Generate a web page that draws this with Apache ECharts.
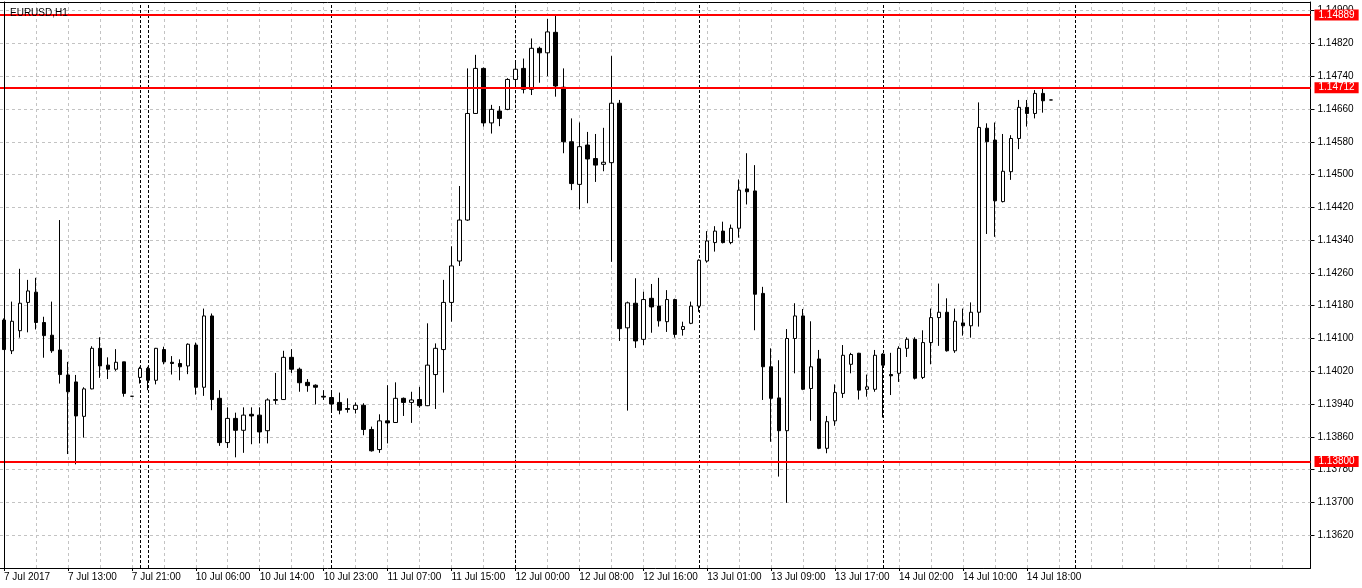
<!DOCTYPE html>
<html><head><meta charset="utf-8">
<script src="https://cdn.jsdelivr.net/npm/echarts@6/dist/echarts.min.js"></script>
<style>html,body{margin:0;padding:0;background:#fff}#c{width:1362px;height:588px}</style>
</head><body><div id="c"></div>
<script>
const chartTitle = 'EURUSD,H1';
const open = [1.14145,1.14070,1.14119,1.14188,1.14213,1.14139,1.14108,1.14072,1.14011,1.13994,
1.13910,1.13977,1.14076,1.14035,1.14025,1.14043,1.13959,1.14005,1.14027,1.13998,
1.14073,1.14042,1.14039,1.14033,1.14084,1.13981,1.14155,1.13954,1.13846,1.13905,
1.13876,1.13915,1.13913,1.13875,1.13949,1.13951,1.14054,1.14025,1.13993,1.13986,
1.13959,1.13956,1.13944,1.13929,1.13927,1.13937,1.13878,1.13829,1.13899,1.13895,
1.13954,1.13944,1.13951,1.13936,1.14012,1.14073,1.14188,1.14289,1.14389,1.14649,
1.14759,1.14626,1.14655,1.14659,1.14732,1.14759,1.14708,1.14808,1.14797,1.14847,
1.14713,1.14580,1.14476,1.14572,1.14539,1.14525,1.14529,1.14674,1.14126,1.14186,
1.14098,1.14198,1.14179,1.14141,1.14195,1.14122,1.14137,1.14179,1.14289,1.14334,
1.14362,1.14334,1.14369,1.14465,1.14460,1.14210,1.14031,1.13955,1.13875,1.14100,
1.14155,1.13978,1.14050,1.13832,1.13899,1.13966,1.14037,1.14064,1.13976,1.13976,
1.14062,1.14012,1.14015,1.14076,1.14098,1.14005,1.14090,1.14151,1.14164,1.14070,
1.14138,1.14131,1.14164,1.14613,1.14584,1.14434,1.14507,1.14588,1.14664,1.14649,
1.14698,1.14682];
const close = [1.14073,1.14142,1.14186,1.14216,1.14139,1.14107,1.14070,1.14012,1.13970,1.13911,
1.13977,1.14076,1.14033,1.14025,1.14042,1.13966,1.13959,1.14027,1.13998,1.14076,
1.14043,1.14039,1.14031,1.14086,1.13981,1.14155,1.13951,1.13846,1.13905,1.13876,
1.13913,1.13911,1.13872,1.13950,1.13951,1.14054,1.14025,1.13992,1.13985,1.13981,
1.13957,1.13940,1.13925,1.13927,1.13937,1.13878,1.13826,1.13899,1.13894,1.13954,
1.13944,1.13950,1.13936,1.14035,1.14076,1.14188,1.14277,1.14389,1.14649,1.14759,
1.14626,1.14659,1.14637,1.14732,1.14757,1.14708,1.14808,1.14797,1.14848,1.14716,
1.14580,1.14478,1.14568,1.14538,1.14523,1.14530,1.14674,1.14124,1.14187,1.14094,
1.14195,1.14177,1.14143,1.14195,1.14110,1.14129,1.14179,1.14291,1.14338,1.14362,
1.14334,1.14369,1.14462,1.14458,1.14208,1.14031,1.13954,1.13875,1.14100,1.14155,
1.13976,1.14031,1.13832,1.13897,1.13968,1.14059,1.14061,1.13974,1.13982,1.14059,
1.14035,1.14009,1.14076,1.14098,1.14003,1.14090,1.14151,1.14164,1.14070,1.14142,
1.14131,1.14164,1.14615,1.14580,1.14436,1.14508,1.14588,1.14664,1.14649,1.14698,
1.14680,1.14682];
const low = [1.14072,1.14062,1.14102,1.14115,1.14122,1.14053,1.14065,1.13990,1.13818,1.13793,
1.13858,1.13976,1.14004,1.14001,1.14021,1.13958,1.13959,1.13990,1.13974,1.13988,
1.14037,1.14012,1.13998,1.14013,1.13963,1.13960,1.13925,1.13838,1.13833,1.13810,
1.13821,1.13842,1.13844,1.13844,1.13939,1.13950,1.14016,1.13970,1.13970,1.13939,
1.13950,1.13920,1.13915,1.13919,1.13917,1.13864,1.13824,1.13821,1.13844,1.13894,
1.13911,1.13894,1.13931,1.13935,1.13928,1.13968,1.14141,1.14277,1.14387,1.14648,
1.14617,1.14600,1.14618,1.14657,1.14714,1.14698,1.14694,1.14724,1.14740,1.14690,
1.14552,1.14462,1.14415,1.14430,1.14482,1.14508,1.14287,1.14094,1.13924,1.14077,
1.14084,1.14114,1.14129,1.14116,1.14102,1.14107,1.14135,1.14165,1.14285,1.14312,
1.14332,1.14330,1.14346,1.14427,1.14120,1.13950,1.13848,1.13763,1.13699,1.14015,
1.13974,1.13899,1.13830,1.13820,1.13887,1.13955,1.14015,1.13951,1.13958,1.13970,
1.13907,1.13962,1.13994,1.14055,1.14000,1.14001,1.14037,1.14082,1.14068,1.14065,
1.14107,1.14102,1.14129,1.14355,1.14348,1.14432,1.14487,1.14562,1.14617,1.14637,
1.14651,1.14682];
const high = [1.14149,1.14190,1.14270,1.14243,1.14248,1.14153,1.14190,1.14389,1.14043,1.14011,
1.13981,1.14081,1.14103,1.14054,1.14074,1.14043,1.13959,1.14031,1.14031,1.14077,
1.14080,1.14057,1.14049,1.14088,1.14090,1.14173,1.14161,1.13974,1.13932,1.13919,
1.13932,1.13932,1.13932,1.13954,1.14016,1.14070,1.14074,1.14029,1.14001,1.13988,
1.13974,1.13970,1.13968,1.13954,1.13944,1.13942,1.13885,1.13915,1.13986,1.13993,
1.13956,1.13970,1.13982,1.14137,1.14088,1.14243,1.14325,1.14472,1.14759,1.14792,
1.14761,1.14670,1.14667,1.14735,1.14775,1.14783,1.14832,1.14812,1.14880,1.14889,
1.14759,1.14637,1.14627,1.14604,1.14599,1.14614,1.14789,1.14682,1.14190,1.14247,
1.14214,1.14233,1.14248,1.14218,1.14197,1.14141,1.14190,1.14293,1.14362,1.14374,
1.14385,1.14378,1.14488,1.14552,1.14523,1.14226,1.14076,1.14047,1.14123,1.14186,
1.14172,1.14142,1.14072,1.13911,1.13988,1.14084,1.14065,1.14065,1.14012,1.14072,
1.14064,1.14065,1.14081,1.14103,1.14103,1.14120,1.14173,1.14234,1.14198,1.14173,
1.14173,1.14188,1.14676,1.14625,1.14627,1.14599,1.14596,1.14682,1.14682,1.14706,
1.14712,1.14682];
const xTickLabels = ['7 Jul 2017','7 Jul 13:00','7 Jul 21:00','10 Jul 06:00','10 Jul 14:00','10 Jul 23:00',
'11 Jul 07:00','11 Jul 15:00','12 Jul 00:00','12 Jul 08:00','12 Jul 16:00','13 Jul 01:00',
'13 Jul 09:00','13 Jul 17:00','14 Jul 02:00','14 Jul 10:00','14 Jul 18:00'];
const yTicks = [1.13620,1.13700,1.13780,1.13860,1.13940,1.14020,1.14100,1.14180,1.14260,
1.14340,1.14420,1.14500,1.14580,1.14660,1.14740,1.14820,1.14900];
const levels = [1.14889, 1.14712, 1.13800];
const daySeparators = [17, 18, 41, 64, 87, 110, 134];
const slotCount = 164;
const labelEvery = 8;
const gridEvery = 4;
const yMin = 1.13540, yMax = 1.14921;

const cats = [];
for (let i = 0; i < slotCount; i++) cats.push(String(i));
const candles = open.map((o, i) => [o, close[i], low[i], high[i]]);
const font = 'Liberation Sans, Arial, sans-serif';
const isLabelIdx = (idx) => idx % labelEvery === 0 && idx / labelEvery < xTickLabels.length;

const vGrid = [];
for (let i = 0; i < slotCount; i += gridEvery) vGrid.push({ xAxis: i });
const hGrid = yTicks.map(v => ({ yAxis: v }));

const chart = echarts.init(document.getElementById('c'), null, { renderer: 'canvas' });
chart.setOption({
  backgroundColor: '#ffffff',
  animation: false,
  title: {
    text: chartTitle, left: 5, top: 3,
    textStyle: { fontFamily: font, fontSize: 10, fontWeight: 'normal', color: '#000' }
  },
  grid: { left: -1.5, right: 51.5, top: 2, bottom: 20, show: false },
  xAxis: [{
    type: 'category', data: cats, boundaryGap: true, position: 'bottom', z: 10,
    axisLine: { show: true, lineStyle: { color: '#000', width: 1 } },
    axisTick: { show: true, alignWithLabel: true, interval: (idx) => isLabelIdx(idx), length: 3, lineStyle: { color: '#000' } },
    axisLabel: {
      show: true, interval: (idx) => isLabelIdx(idx),
      formatter: (v, idx) => isLabelIdx(idx) ? xTickLabels[idx / labelEvery] : '',
      align: 'left', margin: 4, fontFamily: font, fontSize: 10, color: '#000'
    },
    splitLine: { show: false }
  }, {
    type: 'category', data: cats, boundaryGap: true, position: 'top', z: 10,
    axisLine: { show: true, lineStyle: { color: '#000', width: 1 } },
    axisTick: { show: false }, axisLabel: { show: false }, splitLine: { show: false }
  }],
  yAxis: [{
    type: 'value', position: 'right', min: yMin, max: yMax, scale: true, z: 0,
    axisLine: { show: true, lineStyle: { color: '#000', width: 1 } },
    axisTick: { show: true, customValues: yTicks, length: 4, lineStyle: { color: '#000' } },
    axisLabel: {
      show: true, customValues: yTicks, formatter: (v) => v.toFixed(5),
      margin: 7, fontFamily: font, fontSize: 10, color: '#000'
    },
    splitLine: { show: false }
  }, {
    type: 'value', position: 'left', offset: -4, min: yMin, max: yMax, scale: true, z: 10,
    axisLine: { show: true, lineStyle: { color: '#000', width: 1 } },
    axisTick: { show: false }, axisLabel: { show: false }, splitLine: { show: false }
  }],
  series: [{
    type: 'line', data: [], silent: true, xAxisIndex: 0, yAxisIndex: 0,
    markLine: {
      silent: true, symbol: ['none', 'none'], z: 1, animation: false, precision: 5,
      label: { show: false },
      lineStyle: { color: '#c3c3c3', type: [3, 3], width: 1 },
      data: hGrid.concat(vGrid)
    }
  }, {
    type: 'line', data: [], silent: true, xAxisIndex: 0, yAxisIndex: 0,
    markLine: {
      silent: true, symbol: ['none', 'none'], z: 1, animation: false, precision: 5,
      label: { show: false },
      lineStyle: { color: '#000', type: [3, 2], width: 1 },
      data: daySeparators.map(i => ({ xAxis: i }))
    }
  }, {
    type: 'candlestick', data: candles, xAxisIndex: 0, yAxisIndex: 0,
    barWidth: 4, z: 2,
    itemStyle: { color: '#ffffff', color0: '#000000', borderColor: '#000000', borderColor0: '#000000', borderWidth: 1 },
    markLine: {
      silent: true, symbol: ['none', 'none'], z: 5, animation: false, precision: 5,
      lineStyle: { color: '#ff0000', type: 'solid', width: 2 },
      label: {
        show: true, position: 'end', distance: 4,
        formatter: (p) => Number(p.value).toFixed(5),
        backgroundColor: '#ff0000', color: '#ffffff',
        fontFamily: font, fontSize: 10, lineHeight: 10, padding: [1, 4, 0, 4]
      },
      data: levels.map(v => ({ yAxis: v }))
    }
  }]
});
</script>
</body></html>
